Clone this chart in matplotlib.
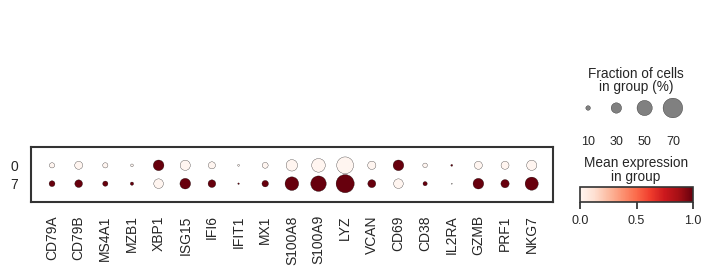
#!/usr/bin/env python3
"""Dotplot of marker genes for groups 0 and 7 (scanpy-style)."""
import numpy as np
import matplotlib
matplotlib.use("Agg")
import matplotlib.pyplot as plt
from matplotlib.colors import Normalize
from matplotlib.colorbar import ColorbarBase

plt.rcParams["font.family"] = ["Liberation Sans", "DejaVu Sans"]

genes = ["CD79A", "CD79B", "MS4A1", "MZB1", "XBP1", "ISG15", "IFI6", "IFIT1",
         "MX1", "S100A8", "S100A9", "LYZ", "VCAN", "CD69", "CD38", "IL2RA",
         "GZMB", "PRF1", "NKG7"]
groups = ["0", "7"]

# fraction of cells expressing (0..1)
frac_0 = [0.12, 0.21, 0.12, 0.05, 0.31, 0.29, 0.18, 0.03, 0.14, 0.34, 0.43,
          0.57, 0.22, 0.31, 0.10, 0.03, 0.21, 0.21, 0.29]
frac_7 = [0.14, 0.20, 0.12, 0.065, 0.27, 0.31, 0.20, 0.023, 0.16, 0.43, 0.51,
          0.63, 0.21, 0.27, 0.09, 0.015, 0.31, 0.22, 0.41]
# mean expression, standardized per gene
expr_0 = [0, 0, 0, 0, 1, 0, 0, 0, 0, 0, 0, 0, 0, 1, 0, 1, 0, 0, 0]
expr_7 = [1, 1, 1, 1, 0, 1, 1, 1, 1, 1, 1, 1, 1, 0, 1, 0, 1, 1, 1]

size_ticks = [0.1, 0.3, 0.5, 0.7]
dot_max = 0.7
largest = 200

fig = plt.figure(figsize=(7.11, 2.75), dpi=100)

def dot_size(f):
    return (np.asarray(f) / dot_max) ** 1.5 * largest

# main dot axes
ax = fig.add_axes([30.7 / 711, 73 / 275, (553 - 30.7) / 711, 55 / 275])
frac = np.array([frac_0, frac_7])
expr = np.array([expr_0, expr_7])
xx, yy = np.meshgrid(np.arange(len(genes)) + 0.5, np.arange(len(groups)) + 0.5)
ax.scatter(xx.ravel(), yy.ravel(), s=dot_size(frac.ravel()), c=expr.ravel(),
           cmap="Reds", vmin=0, vmax=1, edgecolor="black", linewidth=0.2)
ax.set_xlim(-0.3, len(genes) + 0.3)
ax.set_ylim(len(groups) + 0.5, -0.5)
ax.set_xticks(np.arange(len(genes)) + 0.5)
ax.set_xticklabels(genes, rotation=90)
ax.set_yticks(np.arange(len(groups)) + 0.5)
ax.set_yticklabels(groups)
ax.tick_params(axis="both", length=0, labelsize=10, colors="#262626")
ax.tick_params(axis="x", pad=9.5)
ax.tick_params(axis="y", pad=9)
for sp in ax.spines.values():
    sp.set_linewidth(1.5)
    sp.set_color("#333333")

# size legend
sax = fig.add_axes([574 / 711, (275 - 122) / 275, 113 / 711, 28 / 275])
sax.scatter(np.arange(len(size_ticks)) + 0.5, np.zeros(len(size_ticks)),
            s=dot_size(size_ticks), color="gray", edgecolor="black",
            linewidth=0.2, zorder=100)
sax.set_xlim(0, len(size_ticks))
sax.set_ylim(-1, 1)
sax.set_xticks(np.arange(len(size_ticks)) + 0.5)
sax.set_xticklabels([f"{int(round(v * 100))}" for v in size_ticks])
sax.set_yticks([])
sax.tick_params(axis="x", length=0, pad=10, labelsize=9, colors="#262626")
for sp in sax.spines.values():
    sp.set_visible(False)
fig.text(636 / 711, 1 - 80.5 / 275, "Fraction of cells\nin group (%)",
         ha="center", va="center", fontsize=9.8, color="#262626",
         linespacing=1.0)

# colorbar
cax = fig.add_axes([580 / 711, (275 - 202) / 275, 113 / 711, 15 / 275])
cb = ColorbarBase(cax, cmap=plt.get_cmap("Reds"), norm=Normalize(0, 1),
                  orientation="horizontal", ticks=[0, 0.5, 1])
cb.ax.set_xticklabels(["0.0", "0.5", "1.0"])
cb.ax.tick_params(length=5, width=1.2, pad=4.5, labelsize=9,
                  colors="#262626")
cb.outline.set_linewidth(1.2)
cb.outline.set_edgecolor("#333333")
fig.text(636 / 711, 1 - 170 / 275, "Mean expression\nin group",
         ha="center", va="center", fontsize=9.8, color="#262626",
         linespacing=1.0)

fig.savefig("out.png", dpi=100, facecolor="white")
print("OK out.png")
